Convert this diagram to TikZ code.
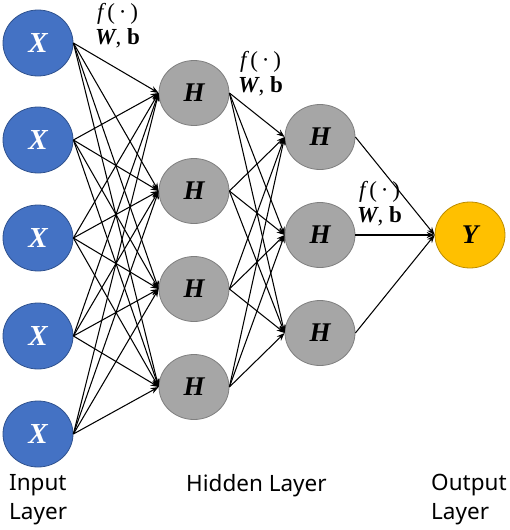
\documentclass[tikz,border=0pt]{standalone}
\usepackage{fontspec}
\setmainfont{Noto Sans}
\newfontfamily\serfont{Liberation Serif}
\usetikzlibrary{shapes.geometric,arrows.meta}
\definecolor{inblue}{HTML}{4472C4}
\definecolor{inblueb}{HTML}{2F528F}
\definecolor{hgray}{HTML}{A6A6A6}
\definecolor{hgrayb}{HTML}{7F7F7F}
\definecolor{outy}{HTML}{FFC000}
\definecolor{outyb}{HTML}{BC8C00}
\begin{document}
\begin{tikzpicture}[x=1pt,y=-1pt,
  neuron/.style={ellipse,minimum width=70pt,minimum height=66pt,inner sep=0pt,line width=0.8pt,
     font=\serfont\bfseries\itshape\fontsize{27}{27}\selectfont},
  innode/.style={neuron,fill=inblue,draw=inblueb,text=white,font=\serfont\bfseries\itshape\fontsize{29}{29}\selectfont},
  hidnode/.style={neuron,fill=hgray,draw=hgrayb,minimum height=65pt},
  outnode/.style={neuron,fill=outy,draw=outyb},
  conn/.style={-{Stealth[length=8pt,width=6pt]},line width=1.05pt},
  wlabel/.style={align=left,anchor=north west,inner sep=0pt,font=\serfont\fontsize{23}{25}\selectfont},
  layerlabel/.style={align=left,anchor=north west,inner sep=0pt,font=\fontsize{22.5}{29}\selectfont}
]
\useasboundingbox (0,0) rectangle (510,530);
% input
\foreach \i/\y in {1/43,2/140,3/238,4/336,5/434}
  \node[innode] (x\i) at (38,\y) {X};
% hidden 1
\foreach \i/\y in {1/93,2/191,3/289,4/387}
  \node[hidnode] (h\i) at (194,\y) {H};
% hidden 2
\foreach \i/\y in {1/137,2/235,3/333}
  \node[hidnode] (g\i) at (320,\y) {H};
% output
\node[outnode] (y) at (470,235) {Y};
% connections
\foreach \i in {1,...,5}
  \foreach \j in {1,...,4}
    \draw[conn] (x\i.east) -- (h\j.west);
\foreach \i in {1,...,4}
  \foreach \j in {1,...,3}
    \draw[conn] (h\i.east) -- (g\j.west);
\foreach \i in {1,...,3}
  \draw[conn] (g\i.east) -- (y.west);
% weight labels
\newcommand{\wb}{\hspace{2pt}{\itshape f}\,(\,·\,)\\{\bfseries\itshape W}, {\bfseries b}}
\node[wlabel] (l1) at (95,3) {\wb};
\node[wlabel] (l2) at (238,51) {\wb};
\node[wlabel] (l3) at (357,181) {\wb};
% layer labels
\node[layerlabel] (t1) at (9,474) {Input\\Layer};
\node[layerlabel] (t2) at (186,474) {Hidden Layer};
\node[layerlabel] (t3) at (431,474) {Output\\Layer};
\end{tikzpicture}
\end{document}
